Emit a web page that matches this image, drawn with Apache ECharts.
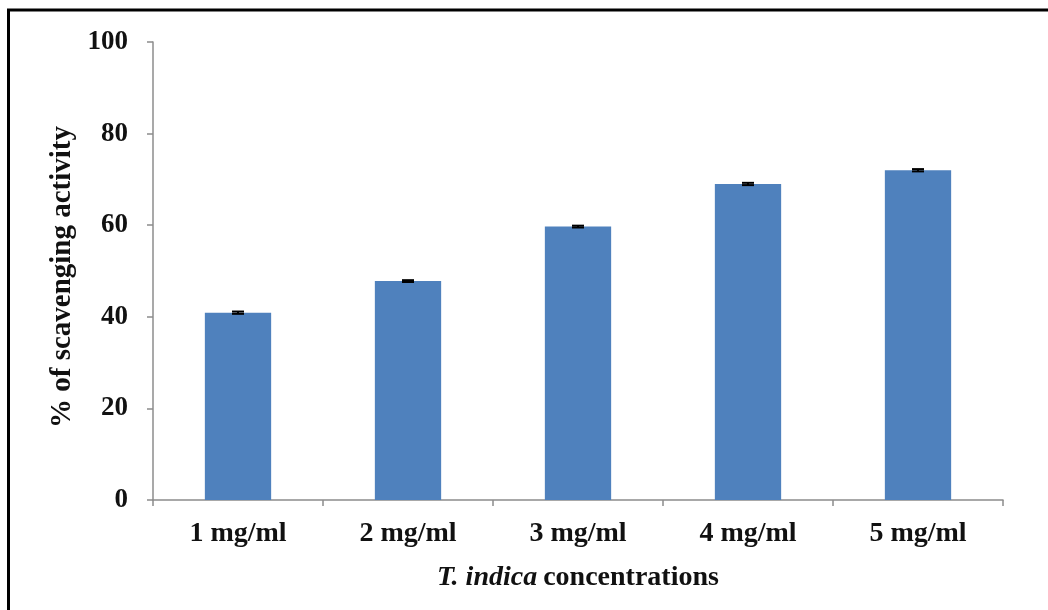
<!DOCTYPE html>
<html>
<head>
<meta charset="utf-8">
<script src="https://cdn.jsdelivr.net/npm/echarts@6/dist/echarts.min.js"></script>
<style>
  html, body { margin: 0; padding: 0; background: #ffffff; }
  #chart { width: 1048px; height: 610px; }
</style>
</head>
<body>
<div id="chart"></div>
<script>
// Concentrations tested and the mean scavenging activity with its error
const categories = ['1 mg/ml', '2 mg/ml', '3 mg/ml', '4 mg/ml', '5 mg/ml'];
const scavenging = [40.9, 47.8, 59.7, 69.0, 72.0];
const errors = [0.25, 0.2, 0.2, 0.25, 0.25];
const yTicks = [0, 20, 40, 60, 80, 100];

const serif = '"Liberation Serif", "Times New Roman", serif';
const chart = echarts.init(document.getElementById('chart'));

const errorData = categories.map((c, i) => [i, scavenging[i] - errors[i], scavenging[i] + errors[i]]);

chart.setOption({
  animation: false,
  backgroundColor: '#ffffff',
  grid: { left: 153, right: 45, top: 42, bottom: 110, containLabel: false },
  xAxis: {
    type: 'category',
    data: categories,
    axisLine: { lineStyle: { color: '#8c8c8c', width: 1.5 } },
    axisTick: { show: true, length: 6, alignWithLabel: false, lineStyle: { color: '#8c8c8c', width: 1.5 } },
    axisLabel: { color: '#111', fontFamily: serif, fontWeight: 'bold', fontSize: 28, margin: 20 },
    name: '{i|T. indica}{s| }{b|concentrations}',
    nameLocation: 'middle',
    nameGap: 64,
    nameTextStyle: {
      rich: {
        i: { fontFamily: serif, fontWeight: 'bold', fontStyle: 'italic', fontSize: 28, color: '#111' },
        s: { fontFamily: serif, fontSize: 28, width: 6 },
        b: { fontFamily: serif, fontWeight: 'bold', fontSize: 28, color: '#111' }
      }
    }
  },
  yAxis: {
    type: 'value',
    min: yTicks[0],
    max: yTicks[yTicks.length - 1],
    interval: yTicks[1] - yTicks[0],
    axisLine: { show: true, lineStyle: { color: '#8c8c8c', width: 1.5 } },
    axisTick: { show: true, length: 6, lineStyle: { color: '#8c8c8c', width: 1.5 } },
    splitLine: { show: false },
    axisLabel: { color: '#111', fontFamily: serif, fontWeight: 'bold', fontSize: 27, margin: 25 },
    name: '% of scavenging activity',
    nameLocation: 'middle',
    nameGap: 75,
    nameRotate: 90,
    nameTextStyle: { fontFamily: serif, fontWeight: 'bold', fontSize: 29, color: '#111', padding: [0, 12, 0, 0] }
  },
  series: [
    {
      type: 'bar',
      data: scavenging,
      barWidth: '39%',
      itemStyle: { color: '#4f81bd' }
    },
    {
      type: 'custom',
      data: errorData,
      z: 10,
      renderItem: function (params, api) {
        const x = api.value(0);
        const lo = api.coord([x, api.value(1)]);
        const hi = api.coord([x, api.value(2)]);
        const half = 6;
        const style = { stroke: '#000', lineWidth: 2 };
        return {
          type: 'group',
          children: [
            { type: 'line', shape: { x1: lo[0], y1: lo[1], x2: hi[0], y2: hi[1] }, style: style },
            { type: 'line', shape: { x1: hi[0] - half, y1: hi[1], x2: hi[0] + half, y2: hi[1] }, style: style },
            { type: 'line', shape: { x1: lo[0] - half, y1: lo[1], x2: lo[0] + half, y2: lo[1] }, style: style }
          ]
        };
      }
    }
  ],
  graphic: [
    { type: 'line', shape: { x1: 7, y1: 10, x2: 1048, y2: 10 }, style: { stroke: '#000', lineWidth: 3 } },
    { type: 'line', shape: { x1: 8.5, y1: 10, x2: 8.5, y2: 610 }, style: { stroke: '#000', lineWidth: 3 } }
  ]
});
</script>
</body>
</html>
